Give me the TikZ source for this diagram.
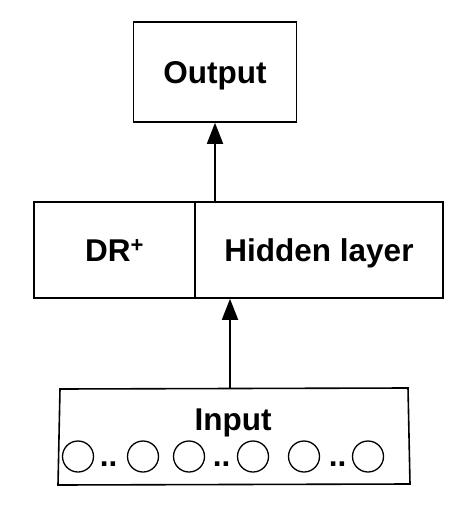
\documentclass[tikz,border=0pt]{standalone}
\usepackage{fontspec}
\setmainfont{Liberation Sans}
\usetikzlibrary{arrows.meta}
\begin{document}
\begin{tikzpicture}[x=1pt,y=-1pt,
  lbl/.style={font=\fontsize{31.5}{36}\selectfont\bfseries},
  box/.style={draw,line width=1.6pt,rectangle,inner sep=0pt,lbl,text height=22.5pt,text depth=0pt},
  unit/.style={draw,circle,line width=1.3pt,minimum size=31pt,inner sep=0pt},
  dots/.style={lbl,inner sep=0pt,anchor=base},
  conn/.style={line width=1.8pt,-{Triangle[length=21pt,width=16pt]}}]
\useasboundingbox (0,0) rectangle (473,526);
\node[box,minimum width=163pt,minimum height=100pt] (output) at (215,72) {Output};
\node[box,minimum width=161pt,minimum height=96pt] (dr) at (114.5,250) {DR\textsuperscript{+}};
\node[box,minimum width=248pt,minimum height=96pt] (hidden) at (319,250) {Hidden layer};
\draw[line width=1.6pt] (60,389) coordinate (intl) -- (408,388) coordinate (intr) -- (410,484) -- (58,485) -- cycle;
\coordinate (intop) at (230,388.7);
\node[lbl,anchor=base,inner sep=0pt] (inlabel) at (233,430) {Input};
\node[unit] (c1) at (78,456.5) {};
\node[unit] (c2) at (143,456.5) {};
\node[unit] (c3) at (189,456.5) {};
\node[unit] (c4) at (253,456.5) {};
\node[unit] (c5) at (304,456.5) {};
\node[unit] (c6) at (368,456.5) {};
\node[dots] (d1) at (108.5,466) {..};
\node[dots] (d2) at (221.5,466) {..};
\node[dots] (d3) at (337.5,466) {..};
\draw[conn] (intop) -- (intop |- hidden.south);
\draw[conn] (output.south |- hidden.north) -- (output.south);
\end{tikzpicture}
\end{document}
